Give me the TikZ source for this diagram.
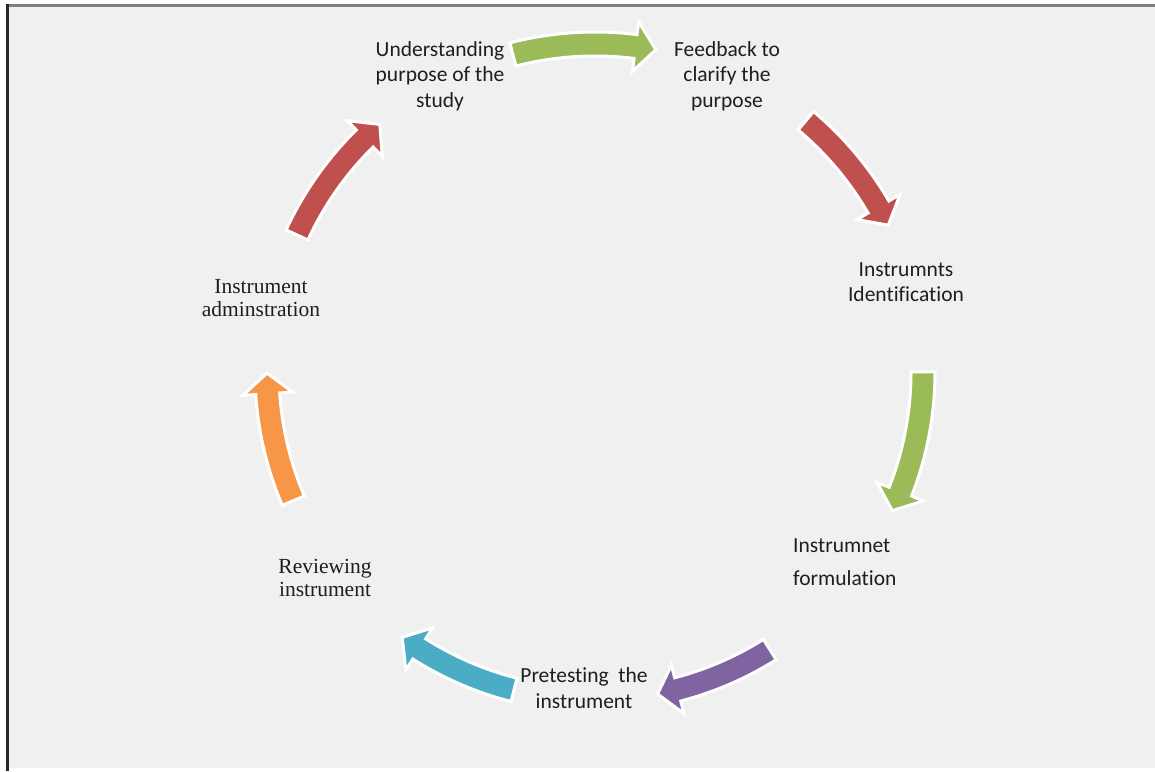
\documentclass[tikz,border=0pt]{standalone}
\usepackage{fontspec}
\setmainfont{Carlito}[Ligatures=NoCommon]
\newfontfamily\seriffam{Liberation Serif}
\definecolor{panel}{RGB}{240,240,240}
\definecolor{frametop}{RGB}{128,128,128}
\definecolor{frameleft}{RGB}{40,40,40}
\definecolor{txt}{RGB}{30,30,30}
\definecolor{cgreen}{RGB}{155,187,89}
\definecolor{cred}{RGB}{192,80,77}
\definecolor{cpurple}{RGB}{128,100,162}
\definecolor{ccyan}{RGB}{75,172,198}
\definecolor{corange}{RGB}{247,150,70}
% ring geometry (pt): mid radius, shaft and head radii, head length as an angle
\def\Rmid{328}
\def\Ro{340}
\def\Ri{316}
\def\Rho{353}
\def\Rhi{303}
\def\headang{3.6}
% curved block arrow on the ring: colour, tail angle, tip angle (clockwise)
\newcommand{\cyclearrow}[3]{%
  \pgfmathsetmacro{\hb}{#3+\headang}%
  \filldraw[arrowbody, fill=#1, shift={(ctr)}]
    (#2:\Ro) arc[start angle=#2, end angle=\hb, radius=\Ro]
    -- (\hb:\Rho) -- (#3:\Rmid) -- (\hb:\Rhi) -- (\hb:\Ri)
    arc[start angle=\hb, end angle=#2, radius=\Ri] -- cycle;}
\begin{document}
\begin{tikzpicture}[x=1pt,y=1pt,
  steplabel/.style={font=\fontsize{21.5}{25.5}\selectfont, align=center, inner sep=0pt, text=txt},
  seriflabel/.style={font=\seriffam\fontsize{21.5}{23}\selectfont, align=center, inner sep=0pt, text=txt},
  arrowbody/.style={draw=white, line width=3, line join=miter}]
\useasboundingbox (0,0) rectangle (1155,771);
% page and framed panel
\fill[white] (0,0) rectangle (1155,771);
\fill[panel] (8,3) rectangle (1155,765);
\draw[frametop, line width=3] (6,765.5) -- (1155,765.5);
\draw[frameleft, line width=3] (7.5,0) -- (7.5,767);
% centre of the cycle
\coordinate (ctr) at (595,399);
% step labels
\node[steplabel] (under) at (440,695) {Understanding\\purpose of the\\study};
\node[steplabel] (feed) at (727,695) {Feedback to\\clarify the\\purpose};
\node[steplabel] (ident) at (906,489) {Instrumnts\\Identification};
\node[steplabel, font=\fontsize{21.5}{33}\selectfont, align=left, anchor=west] (form) at (793,209) {Instrumnet\\formulation};
\node[steplabel] (pretest) at (584,83) {Pretesting\ \ the\\instrument};
\node[seriflabel] (review) at (325,193) {Reviewing\\instrument};
\node[seriflabel] (admin) at (261,473) {Instrument\\adminstration};
% arrows around the cycle
\cyclearrow{cgreen}{104.5}{79.3}
\cyclearrow{cred}{50}{26.6}
\cyclearrow{cgreen}{0}{-25}
\cyclearrow{cpurple}{-57.8}{-79}
\cyclearrow{ccyan}{-104.3}{-126}
\cyclearrow{corange}{203.1}{180.2}
\cyclearrow{cred}{155.3}{131}
\end{tikzpicture}
\end{document}
